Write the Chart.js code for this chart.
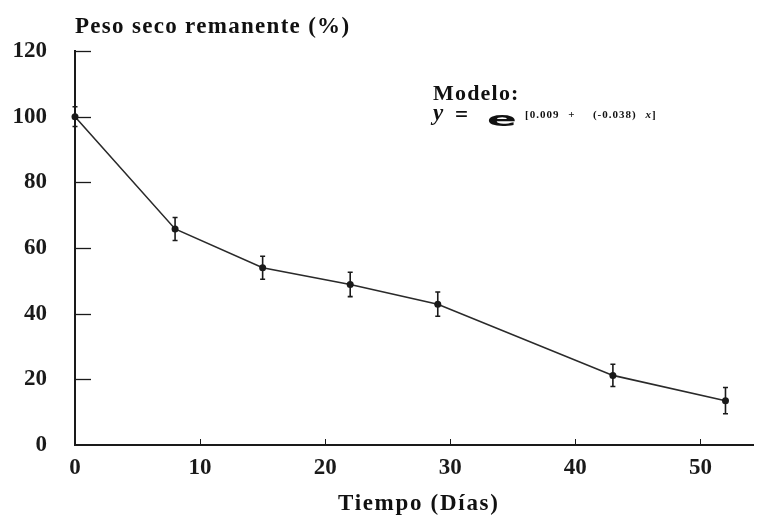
<!DOCTYPE html>
<html lang="es">
<head>
<meta charset="UTF-8">
<title>Peso seco remanente</title>
<script src="https://cdn.jsdelivr.net/npm/chart.js@4.4.1/dist/chart.umd.min.js"></script>
<style>
  html, body { margin: 0; padding: 0; background: #fff; }
  .wrap {
    position: relative; width: 757px; height: 516px; overflow: hidden;
    font-family: 'Liberation Serif', 'Times New Roman', serif; font-weight: bold; color: #111;
  }
  .wrap canvas { position: absolute; left: 0; top: 0; }
  .lbl { position: absolute; line-height: 1; white-space: pre; }
  .ytitle { left: 75px; top: 14px; font-size: 23px; letter-spacing: 1.3px; }
  .xtitle { left: 338px; top: 491px; font-size: 23px; letter-spacing: 1.7px; }
  .model { left: 433px; top: 82px; font-size: 22px; letter-spacing: 1.2px; }
  .eq-y { left: 433px; top: 101px; font-size: 23px; font-style: italic; }
  .eq-s { left: 455px; top: 103px; font-size: 23px; }
  .e-base {
    left: 487px; top: 109px; font-family: 'DejaVu Sans', sans-serif; font-size: 20px;
    transform: scaleX(2.2); transform-origin: left top;
  }
  .expo { left: 525px; top: 109px; font-size: 11px; letter-spacing: 1px; word-spacing: 5px; }
  .expo i { font-style: italic; }
</style>
</head>
<body>
<div class="wrap">
  <canvas id="chart" width="757" height="516"></canvas>
  <div class="lbl ytitle">Peso seco remanente (%)</div>
  <div class="lbl xtitle">Tiempo (Días)</div>
  <div class="lbl model">Modelo:</div>
  <div class="lbl eq-y">y</div>
  <div class="lbl eq-s">=</div>
  <div class="lbl e-base">e</div>
  <div class="lbl expo">[0.009 +  (-0.038) <i>x</i>]</div>
</div>
<script>
  // sampling days and remaining dry weight (%), with +/- error
  const DAYS = [0, 8, 15, 22, 29, 43, 52];
  const PESO = [100, 65.8, 54.0, 48.9, 42.9, 21.2, 13.5];
  const ERR = [3, 3.5, 3.5, 3.7, 3.7, 3.4, 4];

  const X_TICKS = [0, 10, 20, 30, 40, 50];
  const Y_TICKS = [0, 20, 40, 60, 80, 100, 120];

  const INK = '#1a1a1a';
  const tickFont = { family: "'Liberation Serif', 'Times New Roman', serif", size: 23, weight: 'bold' };

  // vertical error bars with small caps
  const errorBars = {
    id: 'errorBars',
    afterDatasetsDraw(chart) {
      const { ctx, scales: { x, y } } = chart;
      ctx.save();
      ctx.strokeStyle = INK;
      ctx.lineWidth = 1.6;
      DAYS.forEach((d, i) => {
        const px = x.getPixelForValue(d);
        const top = y.getPixelForValue(PESO[i] + ERR[i]);
        const bot = y.getPixelForValue(PESO[i] - ERR[i]);
        ctx.beginPath();
        ctx.moveTo(px, top); ctx.lineTo(px, bot);
        ctx.moveTo(px - 2.5, top); ctx.lineTo(px + 2.5, top);
        ctx.moveTo(px - 2.5, bot); ctx.lineTo(px + 2.5, bot);
        ctx.stroke();
      });
      ctx.restore();
    }
  };

  // tick marks pointing into the plot
  const innerTicks = {
    id: 'innerTicks',
    afterDraw(chart) {
      const { ctx, chartArea: a, scales: { x, y } } = chart;
      ctx.save();
      ctx.strokeStyle = INK;
      ctx.lineWidth = 1.3;
      Y_TICKS.slice(1).forEach(v => {
        const py = Math.round(y.getPixelForValue(v)) + 0.5;
        ctx.beginPath(); ctx.moveTo(a.left, py); ctx.lineTo(a.left + 16, py); ctx.stroke();
      });
      ctx.lineWidth = 1;
      X_TICKS.slice(1).forEach(v => {
        const px = Math.round(x.getPixelForValue(v)) + 0.5;
        ctx.beginPath(); ctx.moveTo(px, a.bottom); ctx.lineTo(px, a.bottom - 6); ctx.stroke();
      });
      ctx.restore();
    }
  };

  new Chart(document.getElementById('chart'), {
    type: 'line',
    data: {
      datasets: [{
        data: DAYS.map((d, i) => ({ x: d, y: PESO[i] })),
        borderColor: '#2a2a2a',
        borderWidth: 1.6,
        tension: 0,
        pointRadius: 3.5,
        pointBackgroundColor: INK,
        pointBorderWidth: 0,
        clip: false
      }]
    },
    options: {
      responsive: false,
      animation: false,
      layout: { padding: { top: 51, right: 0, left: 0, bottom: 0 } },
      plugins: { legend: { display: false }, tooltip: { enabled: false } },
      scales: {
        x: {
          type: 'linear', min: 0, max: 54.2,
          grid: { display: false },
          border: { display: true, color: INK, width: 2 },
          ticks: { color: INK, font: tickFont, padding: 1 },
          afterBuildTicks: s => { s.ticks = X_TICKS.map(v => ({ value: v })); },
          afterFit: s => { s.height = 71; }
        },
        y: {
          type: 'linear', min: 0, max: 120,
          grid: { display: false },
          border: { display: true, color: INK, width: 2 },
          ticks: { color: INK, font: tickFont, padding: 20 },
          afterBuildTicks: s => { s.ticks = Y_TICKS.map(v => ({ value: v })); },
          afterFit: s => { s.width = 75; }
        }
      }
    },
    plugins: [errorBars, innerTicks]
  });
</script>
</body>
</html>
